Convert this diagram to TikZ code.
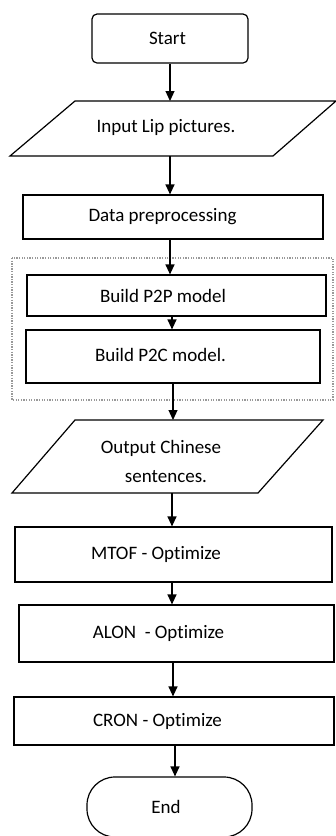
\documentclass[tikz,border=0pt]{standalone}
\usepackage{fontspec}
\setmainfont[Ligatures={NoCommon}]{Carlito}
\usetikzlibrary{arrows.meta}
\begin{document}
\begin{tikzpicture}[x=1pt,y=-1pt,
  every node/.style={font=\fontsize{19}{23}\selectfont, inner sep=0pt},
  box/.style={draw, line width=1.2pt, rectangle},
  para/.style={draw, line width=1.2pt, line join=miter},
  arr/.style={line width=1.2pt, -{Triangle[length=10pt,width=9pt]}},
  grp/.style={draw=gray!80, line width=1.3pt, dash pattern=on 1.3pt off 1.3pt}]
\useasboundingbox (0,0) rectangle (336,836);

% start
\node[box, rounded corners=5pt, minimum width=156pt, minimum height=49pt] (start) at (170,38.5) {\kern-5pt Start};

% input parallelogram
\draw[para] (75,101) -- (336,101) -- (273,156) -- (10,156) -- cycle;
\node (in) at (166,127) {Input Lip pictures.};
\coordinate (inT) at (170,101);
\coordinate (inB) at (170,156);

% data
\node[box, minimum width=300pt, minimum height=44pt] (data) at (173,217) {\kern-21pt\raisebox{-3pt}{Data preprocessing}};

% dotted group
\draw[grp] (12,258) rectangle (333,400);

\node[box, minimum width=299pt, minimum height=41pt] (p2p) at (176.5,295.5) {\kern-27pt Build P2P model};
\node[box, minimum width=294pt, minimum height=53pt] (p2c) at (173,356.5) {\kern-25pt\raisebox{3pt}{Build P2C model.}};

% output parallelogram
\draw[para] (75,420) -- (323,420) -- (258,493) -- (12,493) -- cycle;
\node[align=center, font=\fontsize{19}{29}\selectfont] (out) at (161,461) {Output Chinese\\\hspace*{10pt}sentences.};
\coordinate (outT) at (173,420);
\coordinate (outB) at (172,493);

\node[box, minimum width=317pt, minimum height=55pt] (mtof) at (173.5,554.5) {\kern-35pt\raisebox{1pt}{MTOF - Optimize}};
\node[box, minimum width=315pt, minimum height=57pt] (alon) at (176.5,633.5) {\kern-36pt\raisebox{-5pt}{ALON \ - Optimize}};
\node[box, minimum width=320pt, minimum height=48pt] (cron) at (174,721) {\kern-33pt CRON - Optimize};

\node[box, rounded corners=28pt, minimum width=165pt, minimum height=60pt] (end) at (169.5,807) {\kern-7pt End};

% connectors
\draw[arr] (start.south) -- (inT);
\draw[arr] (inB) -- (inB |- data.north);
\draw[arr] ([xshift=-3pt]data.south) -- ([xshift=-3pt]data.south |- p2p.north);
\draw[arr] ([xshift=-4.5pt]p2p.south) -- ([xshift=-4.5pt]p2p.south |- p2c.north);
\draw[arr] (p2c.south) -- (p2c.south |- outT);
\draw[arr] (outB) -- (outB |- mtof.north);
\draw[arr] ([xshift=-1.5pt]mtof.south) -- ([xshift=-1.5pt]mtof.south |- alon.north);
\draw[arr] ([xshift=-3.5pt]alon.south) -- ([xshift=-3.5pt]alon.south |- cron.north);
\draw[arr] ([xshift=1pt]cron.south) -- ([xshift=1pt]cron.south |- end.north);
\end{tikzpicture}
\end{document}
